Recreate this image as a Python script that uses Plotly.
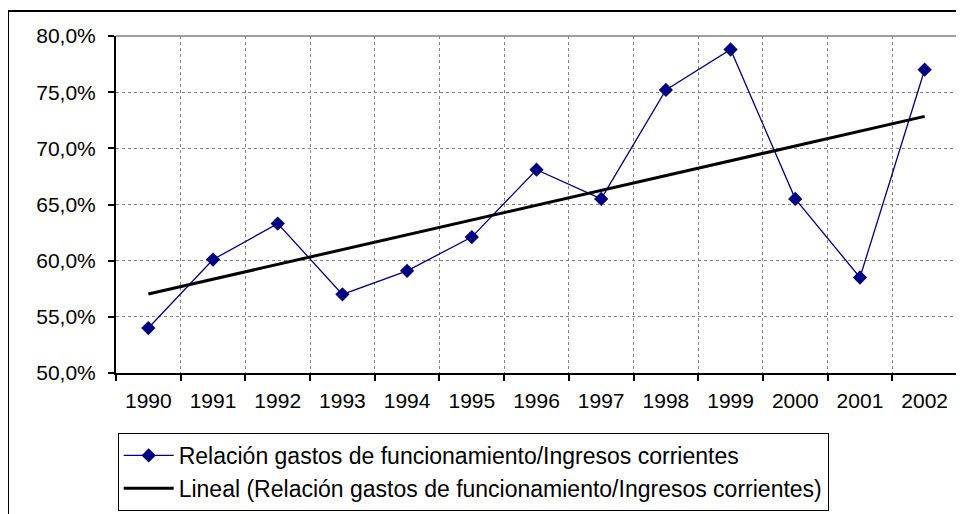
import numpy as np
import plotly.graph_objects as go

# data
years = ["1990", "1991", "1992", "1993", "1994", "1995", "1996",
         "1997", "1998", "1999", "2000", "2001", "2002"]
ratio = [0.540, 0.601, 0.633, 0.570, 0.591, 0.621, 0.681,
         0.655, 0.752, 0.788, 0.655, 0.585, 0.770]
y_ticks = [0.50, 0.55, 0.60, 0.65, 0.70, 0.75, 0.80]
y_labels = ["50,0%", "55,0%", "60,0%", "65,0%", "70,0%", "75,0%", "80,0%"]

series_name = "Relación gastos de funcionamiento/Ingresos corrientes"

# linear trend (Excel "Lineal" trendline)
idx = np.arange(len(ratio))
slope, intercept = np.polyfit(idx, ratio, 1)
trend = intercept + slope * idx

fig = go.Figure()
fig.add_trace(go.Scatter(
    x=years, y=ratio, mode="lines+markers", name=series_name,
    line=dict(color="#000080", width=1.3),
    marker=dict(symbol="diamond", size=11, color="#000080"),
    legendgroup="a",
))
fig.add_trace(go.Scatter(
    x=years, y=trend, mode="lines", name="Lineal (" + series_name + ")",
    line=dict(color="black", width=3),
    legendgroup="b",
))

# page has an 8px body margin, so the figure is offset by 8px
fig.update_layout(
    width=956, height=506,
    margin=dict(l=108, r=7, t=28, b=141, autoexpand=False),
    paper_bgcolor="white", plot_bgcolor="white",
    font=dict(family="Liberation Sans, Arial", size=21, color="black"),
    showlegend=True,
    legend=dict(
        x=0.002, y=-0.178, xanchor="left", yanchor="top",
        bordercolor="black", borderwidth=1, bgcolor="white",
        traceorder="grouped", tracegroupgap=0, itemwidth=50,
        font=dict(size=23),
    ),
    shapes=[
        # outer chart border (cut off by the picture at right/bottom)
        dict(type="rect", xref="paper", yref="paper",
             x0=-0.1284, x1=1.2, y0=-0.6, y1=1.0742,
             line=dict(color="black", width=2)),
        # gray top/right border of plot area
        dict(type="line", xref="paper", yref="paper",
             x0=1, x1=1, y0=0, y1=1, line=dict(color="#808080", width=1.5)),
        dict(type="line", xref="paper", yref="paper",
             x0=0, x1=1, y0=1, y1=1, line=dict(color="#808080", width=1.5)),
    ],
)

fig.update_xaxes(
    type="category", tickson="boundaries", range=[-0.5, len(years) - 0.5],
    showline=True, linecolor="black", linewidth=2,
    ticks="outside", ticklen=6, tickcolor="black", tickwidth=1.5,
    showgrid=True, gridcolor="#808080", gridwidth=1, griddash="dot",
    zeroline=False, tickfont=dict(size=21), ticklabelstandoff=8,
)
fig.update_yaxes(
    range=[0.5, 0.8], tickvals=y_ticks, ticktext=y_labels,
    showline=True, linecolor="black", linewidth=2,
    ticks="outside", ticklen=6, tickcolor="black", tickwidth=1.5,
    showgrid=True, gridcolor="#808080", gridwidth=1, griddash="dot",
    zeroline=False, tickfont=dict(size=21), ticklabelstandoff=8,
)

fig.write_html("out.html")
